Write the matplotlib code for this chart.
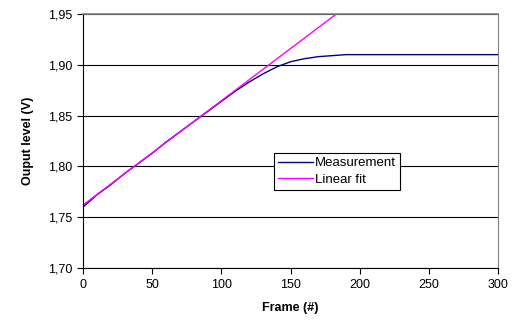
import matplotlib
matplotlib.use("Agg")
import matplotlib.pyplot as plt
from matplotlib.ticker import FuncFormatter

plt.rcParams['font.family'] = ['Liberation Sans', 'DejaVu Sans']

frame = [0, 10, 20, 30, 40, 50, 60, 70, 80, 90, 100, 110, 120, 130,
         140, 150, 160, 170, 180, 190, 200, 250, 300]
level = [1.760, 1.772, 1.782, 1.793, 1.803, 1.813, 1.824, 1.834, 1.844,
         1.854, 1.864, 1.874, 1.883, 1.891, 1.898, 1.903, 1.906, 1.908,
         1.909, 1.910, 1.910, 1.910, 1.910]

# linear fit end points
fit_x = [0, 300]
fit_y = [1.762, 2.070]

fig = plt.figure(figsize=(5.12, 3.25), dpi=100)
ax = fig.add_axes([0.162, 0.175, 0.811, 0.782])

ax.plot(frame, level, color='#000080', lw=1.0, label='Measurement')
ax.plot(fit_x, fit_y, color='#ff00ff', lw=1.0, label='Linear fit')

ax.set_xlim(0, 300)
ax.set_ylim(1.70, 1.95)
ax.set_xticks(range(0, 301, 50))
ax.set_yticks([1.70, 1.75, 1.80, 1.85, 1.90, 1.95])
ax.yaxis.set_major_formatter(FuncFormatter(lambda v, p: f'{v:.2f}'.replace('.', ',')))
ax.yaxis.grid(True, color='black', lw=0.8)
ax.set_axisbelow(True)
ax.tick_params(labelsize=9, direction='out', length=4, width=0.8)
for s in ['left', 'bottom']:
    ax.spines[s].set_color('black')
ax.spines['right'].set_color('#808080')
ax.spines['top'].set_color('#808080')
ax.spines['top'].set_linewidth(1.2)

ax.set_xlabel('Frame (#)', fontsize=9, fontweight='bold', labelpad=8)
ax.set_ylabel('Ouput level (V)', fontsize=9, fontweight='bold', labelpad=10)

leg = ax.legend(loc='upper left', bbox_to_anchor=(0.445, 0.478), fontsize=9.5,
                frameon=True, fancybox=False, handlelength=2.6,
                handletextpad=0.2, borderpad=0.3, labelspacing=0.3)
leg.get_frame().set_edgecolor('black')
leg.get_frame().set_linewidth(0.8)
leg.get_frame().set_alpha(1)

fig.savefig('out.png', dpi=100)
